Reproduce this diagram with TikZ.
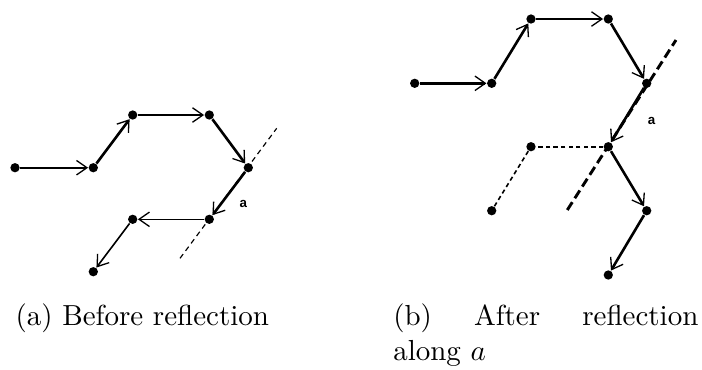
\documentclass[tikz,border=0pt]{standalone}
\usepackage{fontspec}
\newfontfamily\labelfont{Liberation Sans}
\usetikzlibrary{arrows.meta}
\begin{document}
\begin{tikzpicture}[x=0.3448pt,y=-0.3448pt,
  dot/.style={circle,fill=black,inner sep=0pt,minimum size=3.2pt},
  arr/.style={-{Straight Barb[length=3.6pt,width=5pt,line width=0.45pt]}},
  thk/.style={line width=0.9pt},
  thn/.style={line width=0.55pt},
  axisthin/.style={line width=0.4pt,dash pattern=on 1.8pt off 1.4pt},
  axisthick/.style={line width=1pt,dash pattern=on 3.2pt off 1.6pt},
  reflected/.style={line width=0.55pt,dash pattern=on 1.5pt off 1.1pt},
  lbl/.style={font={\labelfont\bfseries\fontsize{4.6}{5}\selectfont},inner sep=0pt},
  captext/.style={anchor=base west,inner sep=0pt}
]
\useasboundingbox (0,0) rectangle (702,369);
% ---- left figure ----
\coordinate (la1) at (180,258.3);
\coordinate (la2) at (276.7,128.3);
\draw[axisthin] (la1) -- (la2);
\node[dot] (p1) at (15,167.7) {};
\node[dot] (p2) at (93.3,167.7) {};
\node[dot] (p3) at (132.7,115) {};
\node[dot] (p4) at (209.3,115) {};
\node[dot] (p5) at (248.3,167.7) {};
\node[dot] (p6) at (209.3,219.3) {};
\node[dot] (p7) at (132.7,219.3) {};
\node[dot] (p8) at (93.3,271.7) {};
\draw[thn,arr] (p1) -- (p2);
\draw[thk,arr] (p2) -- (p3);
\draw[thk,arr] (p3) -- (p4);
\draw[thk,arr] (p4) -- (p5);
\draw[thk,arr] (p5) -- (p6);
\draw[thn,arr] (p6) -- (p7);
\draw[thn,arr] (p7) -- (p8);
\node[lbl] (la) at (243.3,204.3) {a};
% ---- right figure ----
\coordinate (ra1) at (567.3,210);
\coordinate (ra2) at (676,40);
\draw[axisthick] (ra1) -- (ra2);
\node[dot] (q1) at (414.7,83.3) {};
\node[dot] (q2) at (491.7,83.3) {};
\node[dot] (q3) at (531,19) {};
\node[dot] (q4) at (608.3,19) {};
\node[dot] (q5) at (646.7,83.3) {};
\node[dot] (q6) at (608.3,146.7) {};
\node[dot] (q7) at (531,146.7) {};
\node[dot] (q8) at (491.7,210.7) {};
\node[dot] (q9) at (646.7,210.7) {};
\node[dot] (q10) at (608.3,275) {};
\draw[thk,arr] (q1) -- (q2);
\draw[thk,arr] (q2) -- (q3);
\draw[thk,arr] (q3) -- (q4);
\draw[thk,arr] (q4) -- (q5);
\draw[thk,arr] (q5) -- (q6);
\draw[thk,arr] (q6) -- (q9);
\draw[thk,arr] (q9) -- (q10);
\draw[reflected] (q6) -- (q7);
\draw[reflected] (q7) -- (q8);
\node[lbl] (ra) at (651.7,120.7) {a};
% ---- captions ----
\node[captext] (capa) at (15,325) {(a) Before reflection};
\node[captext] (capb1) at (392.7,325) {\makebox[105.2pt][s]{(b)\hfill After\hfill reflection}};
\node[captext] (capb2) at (392.7,360) {along $a$};
\end{tikzpicture}
\end{document}
